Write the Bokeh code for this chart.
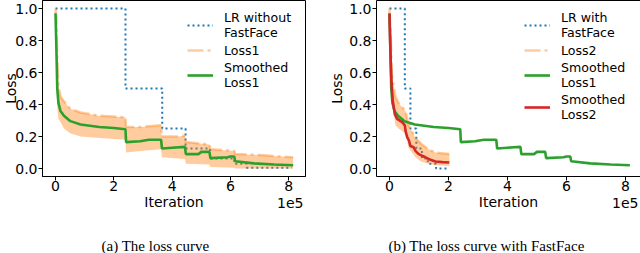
from bokeh.plotting import figure
from bokeh.layouts import row
from bokeh.models import FixedTicker, PrintfTickFormatter, Label, LinearAxis
from bokeh.embed import file_html
from bokeh.resources import INLINE

# ---------------- data (x in units of 1e5 iterations) ----------------
# (a) learning rate without FastFace (step, value holds until next x)
lr1_x = [0, 2.4, 3.66, 4.46, 5.3, 6.13, 6.55, 8.1]
lr1_y = [1.0, 0.5, 0.25, 0.125, 0.0625, 0.03, 0.005, 0.005]

# (a) raw Loss1 envelope
b1_x = [0, 0.03, 0.06, 0.1, 0.17, 0.29, 0.5, 0.86, 1.5, 2.4, 2.42, 2.9, 3.62, 3.65,
        4.2, 4.44, 4.47, 5.28, 5.31, 6.13, 6.16, 7.0, 8.15]
b1_up = [1.0, 0.95, 0.7, 0.52, 0.45, 0.42, 0.375, 0.35, 0.33, 0.32, 0.26, 0.26, 0.27, 0.2,
         0.2, 0.205, 0.165, 0.15, 0.12, 0.11, 0.09, 0.085, 0.07]
b1_lo = [0.94, 0.55, 0.38, 0.31, 0.29, 0.25, 0.22, 0.2, 0.19, 0.18, 0.1, 0.11, 0.12, 0.07,
         0.063, 0.06, 0.03, 0.025, 0.01, 0.005, 0.0, 0.0, 0.0]

# Smoothed Loss1
s1_x = [0, 0.03, 0.06, 0.1, 0.17, 0.29, 0.51, 0.86, 1.5, 2.0, 2.4, 2.42, 2.9, 3.2, 3.62,
        3.65, 4.0, 4.44, 4.47, 4.9, 5.0, 5.28, 5.31, 5.9, 6.0, 6.13, 6.16, 6.8, 7.5, 8.15]
s1_y = [0.97, 0.75, 0.5, 0.41, 0.36, 0.33, 0.296, 0.275, 0.259, 0.253, 0.245, 0.165, 0.17,
        0.18, 0.18, 0.125, 0.13, 0.135, 0.09, 0.09, 0.104, 0.104, 0.065, 0.07, 0.075, 0.075,
        0.045, 0.032, 0.025, 0.02]

# (b) learning rate with FastFace
lr2_x = [0, 0.52, 0.71, 0.91, 1.1, 1.3, 1.58, 2.03]
lr2_y = [1.0, 0.5, 0.25, 0.125, 0.0625, 0.03, 0.0, 0.0]

# (b) raw Loss2 envelope
b2_x = [0, 0.04, 0.08, 0.2, 0.31, 0.54, 0.65, 0.88, 1.1, 1.33, 1.56, 2.03]
b2_up = [1.0, 0.85, 0.59, 0.45, 0.41, 0.36, 0.27, 0.19, 0.15, 0.12, 0.1, 0.09]
b2_lo = [0.93, 0.6, 0.425, 0.27, 0.25, 0.22, 0.13, 0.07, 0.04, 0.03, 0.02, 0.015]

# Smoothed Loss2
s2_x = [0, 0.03, 0.07, 0.11, 0.18, 0.26, 0.43, 0.52, 0.55, 0.6, 0.66, 0.71, 0.82, 0.88,
        0.99, 1.1, 1.22, 1.39, 1.56, 1.79, 2.03]
s2_y = [0.967, 0.74, 0.53, 0.425, 0.34, 0.31, 0.29, 0.27, 0.23, 0.196, 0.175, 0.14, 0.133,
        0.11, 0.09, 0.08, 0.07, 0.054, 0.044, 0.04, 0.0375]

x_ticks = [0, 2, 4, 6, 8]
y_ticks = [0.0, 0.2, 0.4, 0.6, 0.8, 1.0]
captions = ["(a) The loss curve", "(b) The loss curve with FastFace"]

BLUE, ORANGE, GREEN, RED = "#1f77b4", "#ff7f0e", "#2ca02c", "#d62728"
FONT = "DejaVu Sans"


def style(p, label_standoff_y):
    p.grid.visible = False
    p.xaxis.ticker = FixedTicker(ticks=x_ticks, minor_ticks=[])
    p.yaxis.ticker = FixedTicker(ticks=y_ticks, minor_ticks=[])
    p.xaxis.formatter = PrintfTickFormatter(format="%d")
    p.yaxis.formatter = PrintfTickFormatter(format="%.1f")
    for ax in (p.xaxis, p.yaxis):
        ax.major_label_text_font = FONT
        ax.major_label_text_font_size = "14px"
        ax.major_label_text_color = "black"
        ax.axis_label_text_font = FONT
        ax.axis_label_text_font_size = "14px"
        ax.axis_label_text_font_style = "normal"
        ax.axis_label_text_color = "black"
        ax.major_tick_in = 0
        ax.major_tick_out = 4
        ax.major_tick_line_color = "black"
        ax.axis_line_color = "black"
        ax.major_label_standoff = 1
    p.xaxis.major_label_standoff = 0
    p.xaxis.axis_label = "Iteration"
    p.xaxis.axis_label_standoff = 0
    p.yaxis.axis_label = "Loss"
    p.yaxis.axis_label_standoff = label_standoff_y
    p.background_fill_color = "white"
    p.border_fill_color = "white"


def legend_style(p, label_width):
    lg = p.legend[0]
    lg.location = "top_right"
    lg.margin = 10
    lg.padding = 8
    lg.spacing = 2
    lg.label_height = 16
    lg.glyph_height = 16
    lg.glyph_width = 26
    lg.label_standoff = 11
    lg.label_width = label_width
    lg.label_text_font = FONT
    lg.label_text_font_size = "12.6px"
    lg.label_text_color = "black"
    lg.label_text_line_height = 1.2
    lg.background_fill_alpha = 0
    lg.border_line_color = None


def add_texts(p, frame_w, cap_x, caption):
    # offset text of the x axis, in its own panel under the axis
    p.add_layout(Label(x=frame_w - 2, y=25, x_units="screen", y_units="screen", text="1e5",
                       text_align="right", text_baseline="top", text_font=FONT,
                       text_font_size="14px", text_color="black"), "below")
    # sub-figure caption
    p.add_layout(Label(x=cap_x, y=-7, x_units="screen", y_units="screen", text=caption,
                       text_align="center", text_baseline="middle",
                       text_font="Liberation Serif", text_font_size="15px",
                       text_color="black"), "below")


# ---------------- (a) ----------------
p1 = figure(width=320, height=253, x_range=(-0.446, 8.573), y_range=(-0.05, 1.05),
            output_backend="svg", toolbar_location=None,
            min_border_left=42, min_border_right=15, min_border_top=0, min_border_bottom=77)
style(p1, -7)
p1.outline_line_color = "black"
p1.outline_line_width = 1

p1.step(lr1_x, lr1_y, mode="after", line_color=BLUE, line_width=2, line_dash="2 3",
        legend_label="LR without\nFastFace")
p1.varea(x=b1_x, y1=b1_lo, y2=b1_up, fill_color=ORANGE, fill_alpha=0.4)
p1.line(b1_x, b1_up, line_color=ORANGE, line_alpha=0.4, line_width=2.5,
        line_dash="16 4 3 4", legend_label="Loss1")
p1.line(s1_x, s1_y, line_color=GREEN, line_width=2.6, legend_label="Smoothed\nLoss1")
legend_style(p1, 71)
add_texts(p1, 263, 113, captions[0])

# ---------------- (b) ----------------
p2 = figure(width=320, height=253, x_range=(-0.44, 8.51), y_range=(-0.05, 1.05),
            output_backend="svg", toolbar_location=None,
            min_border_left=56, min_border_right=0, min_border_top=0, min_border_bottom=77)
style(p2, 1)
p2.outline_line_color = None
top_ax = LinearAxis(ticker=FixedTicker(ticks=[], minor_ticks=[]), major_tick_out=0,
                    major_tick_in=0, major_label_standoff=0, axis_line_color="black",
                    major_label_text_font_size="0px")
p2.add_layout(top_ax, "above")

p2.step(lr2_x, lr2_y, mode="after", line_color=BLUE, line_width=2, line_dash="2 3",
        legend_label="LR with\nFastFace")
p2.varea(x=b2_x, y1=b2_lo, y2=b2_up, fill_color=ORANGE, fill_alpha=0.4)
p2.line(b2_x, b2_up, line_color=ORANGE, line_alpha=0.4, line_width=2.5,
        line_dash="16 4 3 4", legend_label="Loss2")
p2.line(s1_x, s1_y, line_color=GREEN, line_width=2.6, legend_label="Smoothed\nLoss1")
p2.line(s2_x, s2_y, line_color=RED, line_width=2.6, legend_label="Smoothed\nLoss2")
legend_style(p2, 69)
add_texts(p2, 264, 110, captions[1])

layout = row(p1, p2)

open("out.html", "w").write(file_html(layout, INLINE))
